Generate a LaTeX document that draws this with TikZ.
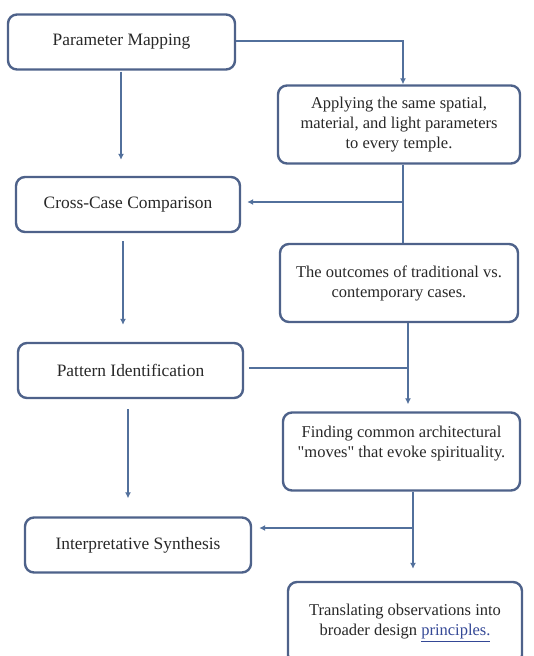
\documentclass[tikz,border=0pt]{standalone}
\usepackage{fontspec}
\setmainfont{Liberation Serif}
\usepackage{xcolor}
\usepackage{tikz}
\usetikzlibrary{arrows.meta}
\definecolor{boxline}{RGB}{78,98,138}
\definecolor{flowline}{RGB}{82,112,156}
\definecolor{inktext}{RGB}{40,40,40}
\definecolor{linkblue}{RGB}{52,72,150}
\tikzstyle{stage}=[draw=boxline,line width=2.4pt,rounded corners=9pt,fill=white,text=inktext,align=center,font=\fontsize{16.5}{20}\selectfont]
\tikzstyle{lbox}=[stage,minimum width=226pt,minimum height=55pt,font=\fontsize{17.4}{20}\selectfont]
\tikzstyle{rbox}=[stage,minimum width=238pt,minimum height=78pt]
\tikzstyle{flow}=[draw=flowline,line width=2.4pt]
\tikzstyle{flowarr}=[flow,-{Latex[length=6pt,width=6pt]}]

\begin{document}
\begin{tikzpicture}[x=1pt,y=-1pt]
    \useasboundingbox (0,0) rectangle (534,656);
    % left column
    \node[lbox,minimum width=227pt] (pm) at (121.5,42) {Parameter Mapping};
    \node[lbox,minimum width=224pt] (ccc) at (128,204.5) {Cross-Case Comparison};
    \node[lbox,minimum width=225pt] (pid) at (130.5,370.5) {Pattern Identification};
    \node[lbox] (isyn) at (138,545) {Interpretative Synthesis};
    % right column
    \node[rbox,minimum width=242pt] (apply) at (399,124.5) {Applying the same spatial,\\ material, and light parameters\\ to every temple.};
    \node[rbox] (outc) at (399,283) {The outcomes of traditional vs.\\ contemporary cases.};
    \node[rbox,minimum width=237pt] (find) at (401.5,451.5) {Finding common architectural\\ \textquotedbl moves\textquotedbl{} that evoke spirituality.\\ ~};
    \node[rbox,minimum width=234pt,minimum height=82pt] (trans) at (405,623) {Translating observations into\\ broader design \textcolor{linkblue}{\underline{principles.}}};
    % joints on the right, entry points on the left
    \coordinate (ajoin) at ([xshift=4pt]apply.south);
    \coordinate (ojoin) at ([xshift=9pt]outc.south);
    \coordinate (fjoin) at ([xshift=11.5pt]find.south);
    \coordinate (pdown) at ([xshift=-0.5pt]pm.south);
    \coordinate (cin) at ([yshift=2.5pt]ccc.east);
    \coordinate (pout) at ([yshift=2.5pt]pid.east);
    \coordinate (iin) at ([yshift=17pt]isyn.east);
    % connectors
    \draw[flowarr] ([yshift=1pt]pm.east) -| ([xshift=4pt]apply.north);
    \draw[flowarr,shorten <=1pt,shorten >=16pt] (pdown) -- (pdown |- ccc.north);
    \draw[flow] (ajoin) -- (ajoin |- outc.north);
    \draw[flowarr,shorten >=6pt] (ajoin |- cin) -- (cin);
    \draw[flowarr,shorten <=8pt,shorten >=17pt] ([xshift=-5pt]ccc.south) -- ([xshift=-5pt]ccc.south |- pid.north);
    \draw[flowarr,shorten >=7pt] (ojoin) -- (ojoin |- find.north);
    \draw[flow,shorten <=5pt] (pout) -- (ojoin |- pout);
    \draw[flowarr,shorten <=10pt,shorten >=18pt] ([xshift=-2.5pt]pid.south) -- ([xshift=-2.5pt]pid.south |- isyn.north);
    \draw[flowarr,shorten >=12pt] (fjoin) -- (fjoin |- trans.north);
    \draw[flowarr,shorten >=7pt] (fjoin |- iin) -- (iin);
\end{tikzpicture}
\end{document}
